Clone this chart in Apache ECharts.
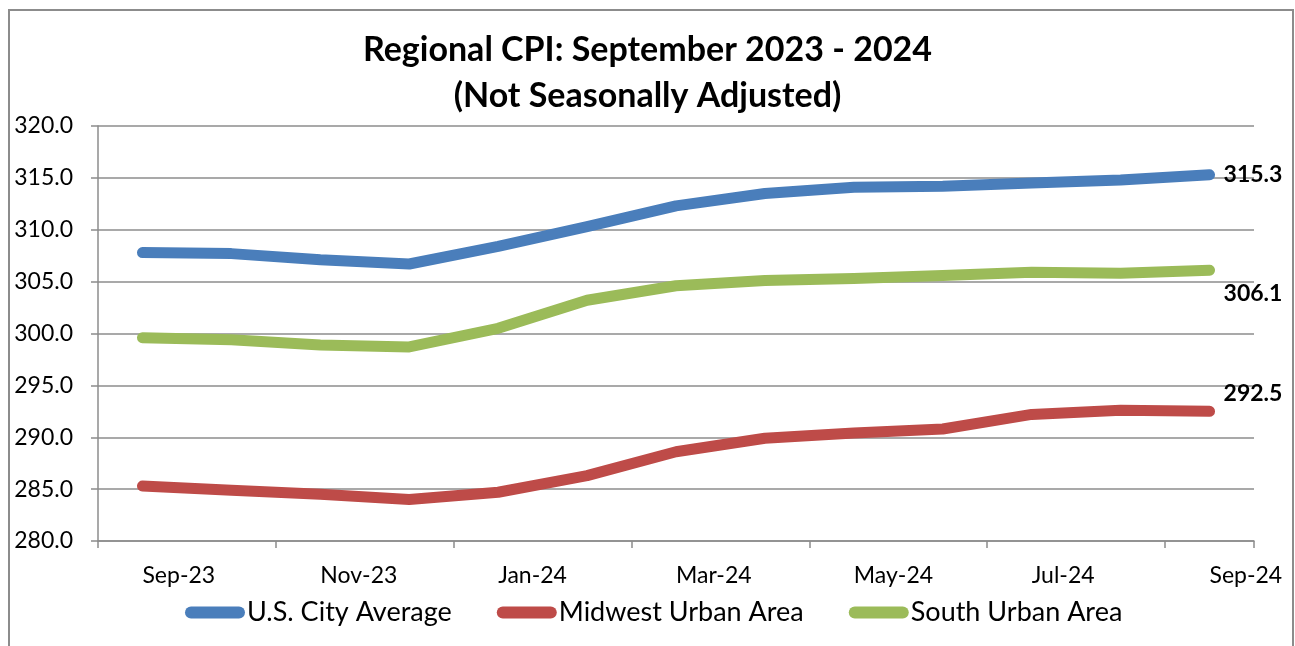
<!DOCTYPE html>
<html>
<head>
<meta charset="utf-8">
<script src="https://cdn.jsdelivr.net/npm/echarts@6/dist/echarts.min.js"></script>
<style>
html,body{margin:0;padding:0;background:#fff;}
#chart{width:1295px;height:646px;}
</style>
</head>
<body>
<div id="chart"></div>
<script>
const categories = ['Sep-23','Oct-23','Nov-23','Dec-23','Jan-24','Feb-24','Mar-24','Apr-24','May-24','Jun-24','Jul-24','Aug-24','Sep-24'];
const usCityAverage = [307.8, 307.7, 307.1, 306.7, 308.4, 310.3, 312.3, 313.5, 314.1, 314.2, 314.5, 314.8, 315.3];
const midwestUrban = [285.3, 284.9, 284.5, 284.0, 284.7, 286.3, 288.6, 289.9, 290.4, 290.8, 292.2, 292.6, 292.5];
const southUrban = [299.6, 299.4, 298.9, 298.7, 300.5, 303.2, 304.6, 305.1, 305.3, 305.6, 305.9, 305.8, 306.1];
const yTicks = ['280.0','285.0','290.0','295.0','300.0','305.0','310.0','315.0','320.0'];

const FONT = 'Lato, "Open Sans", sans-serif';
const chart = echarts.init(document.getElementById('chart'));

const pill = 'path://M6,0 L54,0 A6,6 0 0 1 54,12 L6,12 A6,6 0 0 1 6,0 Z';

function lineSeries(name, values, color, offset) {
  return {
    name: name, type: 'line', data: values,
    showSymbol: false, symbol: 'none', smooth: false,
    lineStyle: { width: 11, color: color, cap: 'round', join: 'round' },
    itemStyle: { color: color },
    endLabel: { show: true, distance: 14, offset: offset,
      formatter: p => Number(p.value).toFixed(1),
      fontFamily: FONT, fontSize: 23, fontWeight: 'bold', color: '#000' },
    emphasis: { disabled: true },
    animation: false
  };
}

chart.setOption({
  backgroundColor: '#fff',
  animation: false,
  title: {
    text: 'Regional CPI: September 2023 - 2024\n(Not Seasonally Adjusted)',
    left: 'center', top: 22,
    textStyle: { fontFamily: FONT, fontSize: 34, fontWeight: 'bold', color: '#000', lineHeight: 46 }
  },
  legend: {
    left: 180, top: 594,
    itemWidth: 60, itemHeight: 12, itemGap: 45,
    icon: pill,
    textStyle: { fontFamily: FONT, fontSize: 27, color: '#000', padding: [0, 0, 0, -3] },
    data: ['U.S. City Average', 'Midwest Urban Area', 'South Urban Area']
  },
  graphic: [{
    type: 'rect', shape: { x: 9, y: 10, width: 1284, height: 660 },
    style: { fill: 'none', stroke: '#8c8c8c', lineWidth: 2 }, silent: true, z: -1
  }],
  grid: { left: 98, right: 41, top: 126, bottom: 105, containLabel: false },
  xAxis: {
    type: 'category', data: categories, boundaryGap: true,
    axisLine: { show: true, lineStyle: { color: '#8c8c8c', width: 1.5 } },
    axisTick: { show: true, interval: 1, length: 7, lineStyle: { color: '#8c8c8c', width: 1.5 } },
    axisLabel: { interval: 1, align: 'left', margin: 23, fontFamily: FONT, fontSize: 23, color: '#000' },
    splitLine: { show: false }
  },
  yAxis: {
    type: 'value', min: 280, max: 320, interval: 5,
    axisLine: { show: true, lineStyle: { color: '#8c8c8c', width: 1.5 } },
    axisTick: { show: true, length: 7, lineStyle: { color: '#8c8c8c', width: 1.5 } },
    axisLabel: { margin: 25, fontFamily: FONT, fontSize: 23, color: '#000',
      formatter: v => yTicks[Math.round((v - 280) / 5)] },
    splitLine: { show: true, lineStyle: { color: '#8c8c8c', width: 1.5 } }
  },
  series: [
    lineSeries('U.S. City Average', usCityAverage, '#4A7EBB', [0, 0]),
    lineSeries('Midwest Urban Area', midwestUrban, '#BE4B48', [0, -18]),
    lineSeries('South Urban Area', southUrban, '#9BBB59', [0, 23])
  ]
});
</script>
</body>
</html>
